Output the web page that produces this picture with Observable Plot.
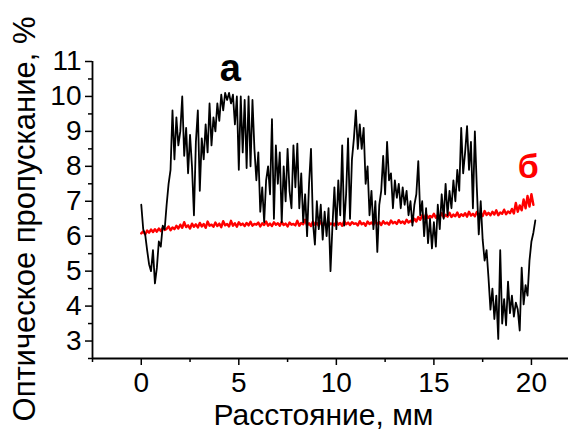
<!DOCTYPE html>
<html>
<head>
<meta charset="utf-8">
<script src="https://cdn.jsdelivr.net/npm/d3@7"></script>
<script src="https://cdn.jsdelivr.net/npm/@observablehq/plot@0.6"></script>
<style>
  html, body { margin: 0; padding: 0; background: #fff; }
  #chart { width: 568px; height: 430px; overflow: hidden; }
</style>
</head>
<body>
<div id="chart"></div>
<script>
// Sampling grid (mm)
const xStart = 0;
const xStep = 0.1;

// Curve "а" – optical transmission, %
const seriesA = [
  6.9, 6.2, 6.05, 5.6, 5.2, 5.0, 5.6, 4.65, 5.1, 5.85,
  5.7, 6.3, 6.2, 6.9, 7.5, 7.9, 9.6, 8.2, 9.4, 8.6,
  9.0, 10.0, 8.3, 9.1, 7.8, 8.9, 8.0, 6.6, 8.7, 9.6,
  7.3, 8.8, 8.2, 9.2, 8.4, 9.8, 8.6, 9.4, 9.0, 9.8,
  9.3, 10.05, 9.6, 10.1, 9.9, 10.1, 9.8, 10.05, 9.2, 10.0,
  7.9, 10.0, 8.4, 9.9, 7.95, 10.0, 8.0, 9.9, 8.5, 7.6,
  8.4, 6.7, 7.4, 6.4, 7.6, 8.0, 7.2, 9.35, 6.5, 8.6,
  7.5, 8.4, 6.4, 8.0, 7.0, 8.5, 7.3, 6.8, 8.6, 7.4,
  8.65, 6.8, 7.8, 6.4, 7.2, 6.0, 7.5, 8.5, 6.4, 5.76,
  7.0, 6.2, 6.9, 5.9, 6.7, 6.0, 6.8, 5.0, 6.3, 7.4,
  6.2, 7.6, 6.6, 8.6, 6.3, 7.2, 8.8, 6.5, 8.2, 8.8,
  9.6, 8.5, 9.2, 8.5, 9.1, 7.5, 8.0, 6.6, 7.3, 6.2,
  7.0, 5.55, 6.9, 7.3, 8.3, 7.2, 8.7, 7.6, 7.8, 6.8,
  7.6, 7.1, 7.5, 6.8, 7.4, 6.9, 7.3, 6.6, 7.0, 6.3,
  6.9, 7.2, 8.15, 6.6, 7.0, 6.0, 6.8, 5.8, 6.5, 5.65,
  6.4, 5.7, 6.9, 6.2, 7.2, 6.5, 7.5, 6.6, 7.3, 6.8,
  7.6, 7.0, 7.9, 7.3, 9.1, 7.8, 8.4, 9.15, 7.9, 8.7,
  6.8, 9.0, 7.4, 6.05, 7.0, 5.9, 5.3, 5.6, 4.8, 3.9,
  4.5, 3.63, 4.3, 3.06, 5.6, 3.5, 4.2, 3.45, 4.7, 3.8,
  4.3, 3.7, 4.1, 3.9, 3.3, 5.1, 4.05, 4.6, 4.3, 5.3,
  5.85, 6.1, 6.45
];

// Curve "б" – optical transmission, %
const seriesB = [
  6.08, 6.14, 6.05, 6.16, 6.10, 6.19, 6.12, 6.20, 6.13, 6.22,
  6.15, 6.24, 6.18, 6.21, 6.28, 6.17, 6.25, 6.20, 6.30, 6.22,
  6.33, 6.24, 6.40, 6.26, 6.31, 6.22, 6.36, 6.27, 6.34, 6.25,
  6.38, 6.28, 6.35, 6.24, 6.42, 6.30, 6.33, 6.27, 6.39, 6.29,
  6.36, 6.26, 6.43, 6.31, 6.35, 6.28, 6.44, 6.30, 6.37, 6.27,
  6.40, 6.32, 6.36, 6.29, 6.38, 6.31, 6.41, 6.30, 6.35, 6.33,
  6.39, 6.28, 6.37, 6.32, 6.42, 6.30, 6.36, 6.29, 6.40, 6.33,
  6.37, 6.30, 6.41, 6.32, 6.36, 6.28, 6.39, 6.33, 6.35, 6.31,
  6.44, 6.30, 6.38, 6.34, 6.47, 6.31, 6.37, 6.29, 6.42, 6.33,
  6.38, 6.30, 6.43, 6.32, 6.36, 6.29, 6.41, 6.34, 6.37, 6.31,
  6.42, 6.33, 6.38, 6.30, 6.44, 6.34, 6.39, 6.32, 6.40, 6.35,
  6.37, 6.31, 6.43, 6.34, 6.38, 6.30, 6.42, 6.35, 6.39, 6.33,
  6.44, 6.34, 6.40, 6.32, 6.43, 6.36, 6.39, 6.33, 6.45, 6.37,
  6.41, 6.35, 6.46, 6.38, 6.42, 6.36, 6.47, 6.39, 6.44, 6.40,
  6.50, 6.42, 6.55, 6.47, 6.60, 6.50, 6.63, 6.52, 6.58, 6.54,
  6.64, 6.53, 6.60, 6.55, 6.66, 6.54, 6.61, 6.56, 6.67, 6.55,
  6.62, 6.57, 6.68, 6.55, 6.63, 6.58, 6.66, 6.56, 6.70, 6.59,
  6.64, 6.57, 6.69, 6.60, 6.65, 6.58, 6.72, 6.61, 6.67, 6.60,
  6.70, 6.62, 6.74, 6.60, 6.68, 6.64, 6.76, 6.63, 6.71, 6.66,
  6.78, 6.65, 6.95, 6.70, 6.88, 6.74, 7.05, 6.80, 7.15, 6.85,
  7.20, 6.90
];

// Axes
const xDomain = [-2.5, 21.9];
const yDomain = [2.5, 11];
const xTicks = [0, 5, 10, 15, 20];
const xMinorTicks = [-2.5, 2.5, 7.5, 12.5, 17.5];
const yTicks = [3, 4, 5, 6, 7, 8, 9, 10, 11];
const yMinorTicks = [2.5, 3.5, 4.5, 5.5, 6.5, 7.5, 8.5, 9.5, 10.5];
const xLabel = "Расстояние, мм";
const yLabel = "Оптическое пропускание, %";

// Curve labels
const curveLabels = [
  {text: "а", x: 4.57, y: 10.8, color: "#000000"},
  {text: "б", x: 19.84, y: 7.97, color: "#ff0000"}
];

const dataA = seriesA.map((v, i) => ({x: xStart + i * xStep, y: v}));
const dataB = seriesB.map((v, i) => ({x: xStart + i * xStep, y: v}));

const font = "'Liberation Sans', Arial, Helvetica, sans-serif";

const chart = Plot.plot({
  width: 568,
  height: 430,
  marginLeft: 92,
  marginRight: 0,
  marginTop: 61,
  marginBottom: 72,
  style: {fontFamily: font, background: "#fff", color: "#000", overflow: "visible"},
  x: {domain: xDomain},
  y: {domain: yDomain},
  marks: [
    Plot.axisX({ticks: xMinorTicks, tickSize: 4, tickFormat: () => "", label: null, strokeWidth: 1.5}),
    Plot.axisX({ticks: xTicks, tickSize: 7, tickPadding: 7, fontSize: 28, label: null, strokeWidth: 1.5, tickFormat: d => String(d)}),
    Plot.axisY({ticks: yMinorTicks, tickSize: 4, tickFormat: () => "", label: null, strokeWidth: 1.5}),
    Plot.axisY({ticks: yTicks, tickSize: 7, tickPadding: 4, fontSize: 28, label: null, strokeWidth: 1.5, tickFormat: d => String(d)}),
    Plot.ruleX([xDomain[0]], {y1: yDomain[0], y2: yDomain[1], stroke: "#000", strokeWidth: 1.8}),
    Plot.ruleY([yDomain[0]], {x1: xDomain[0], x2: xDomain[1], stroke: "#000", strokeWidth: 1.8}),
    Plot.line(dataB, {x: "x", y: "y", stroke: "#ff0000", strokeWidth: 2.4}),
    Plot.line(dataA, {x: "x", y: "y", stroke: "#000", strokeWidth: 1.8}),
    Plot.text(curveLabels.slice(0, 1), {x: "x", y: "y", text: "text", fill: "color", fontSize: 38, fontWeight: "bold"}),
    Plot.text(curveLabels.slice(1), {x: "x", y: "y", text: "text", fill: "color", fontSize: 34, fontWeight: "bold"}),
    Plot.text([xLabel], {frameAnchor: "bottom", dx: -7, dy: 57, lineAnchor: "middle", textAnchor: "middle", fontSize: 30, text: d => d, fill: "#000"}),
    Plot.text([yLabel], {frameAnchor: "left", dx: -67, dy: 9, rotate: -90, lineAnchor: "middle", textAnchor: "middle", fontSize: 31, text: d => d, fill: "#000"})
  ]
});

document.getElementById("chart").appendChild(chart);
</script>
</body>
</html>
